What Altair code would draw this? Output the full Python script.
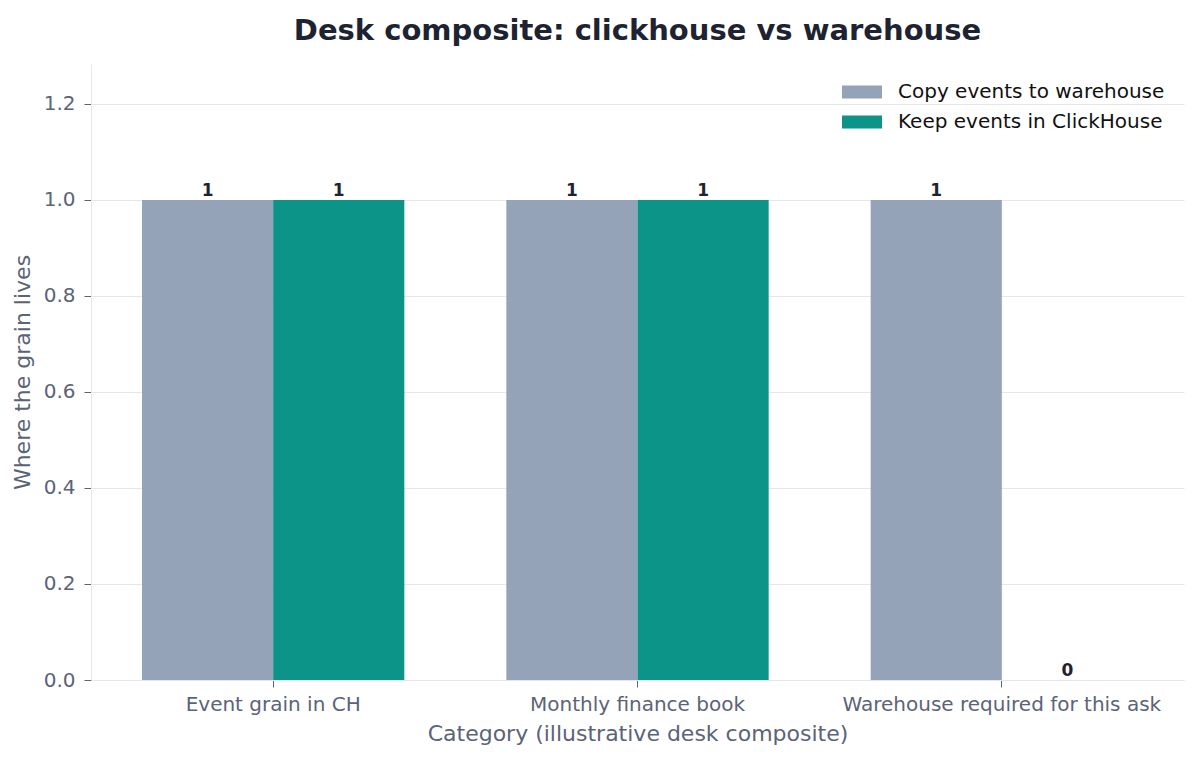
import altair as alt
import pandas as pd

categories = ["Event grain in CH", "Monthly finance book", "Warehouse required for this ask"]
series = ["Copy events to warehouse", "Keep events in ClickHouse"]
copy_values = [1, 1, 1]
keep_values = [1, 1, 0]
colors = ["#94A3B8", "#0D9488"]
y_ticks = [0.0, 0.2, 0.4, 0.6, 0.8, 1.0, 1.2]

rows = []
for cat, c, k in zip(categories, copy_values, keep_values):
    rows.append({"category": cat, "series": series[0], "value": c})
    rows.append({"category": cat, "series": series[1], "value": k})
df = pd.DataFrame(rows)

FONT = "DejaVu Sans"
MUTED = "#5B6477"
DARK = "#1E2332"

base = alt.Chart(df).encode(
    x=alt.X("category:N", sort=categories, title="Category (illustrative desk composite)",
            scale=alt.Scale(paddingInner=0.28, paddingOuter=0.14),
            axis=alt.Axis(labelAngle=0, labelFontSize=20, labelColor=MUTED, labelLimit=500,
                          titleFontSize=22, titleColor=MUTED, titleFontWeight="normal",
                          tickColor=MUTED, tickSize=7, domainColor="#E5E7EB",
                          labelPadding=7, titlePadding=9, grid=False)),
    xOffset=alt.XOffset("series:N", sort=series,
                        scale=alt.Scale(paddingInner=0, paddingOuter=0)),
    y=alt.Y("value:Q", title="Where the grain lives",
            scale=alt.Scale(domain=[0, 1.283], nice=False),
            axis=alt.Axis(values=y_ticks, format=".1f", labelFontSize=20, labelColor=MUTED,
                          titleFontSize=22, titleColor=MUTED, titleFontWeight="normal",
                          tickColor=MUTED, tickSize=7, domainColor="#E5E7EB",
                          gridColor="#E5E7EB", labelPadding=9, titlePadding=9)),
)

bars = base.mark_bar().encode(
    color=alt.Color("series:N", sort=series, title=None,
                    scale=alt.Scale(domain=series, range=colors),
                    legend=alt.Legend(orient="none", legendX=751, legendY=8,
                                      symbolType="M-1,-0.33L1,-0.33L1,0.33L-1,0.33Z",
                                      symbolSize=1600, symbolStrokeWidth=0,
                                      labelFontSize=20, labelColor="#111111", labelLimit=500,
                                      labelFont=FONT, rowPadding=-1, labelOffset=16))
)

labels = base.mark_text(baseline="bottom", dy=0, fontSize=17, fontWeight="bold",
                        color=DARK, font=FONT).encode(
    text=alt.Text("value:Q", format="d")
)

chart = (bars + labels).properties(
    width=1093, height=616,
    padding={"left": 3, "top": 9, "right": 5, "bottom": 5},
    title=alt.TitleParams("Desk composite: clickhouse vs warehouse", fontSize=29,
                          fontWeight="bold", color=DARK, font=FONT, anchor="middle", offset=18),
).configure(font=FONT).configure_view(stroke=None)

chart.save("out.html", embed_options={"renderer": "svg", "actions": False})
